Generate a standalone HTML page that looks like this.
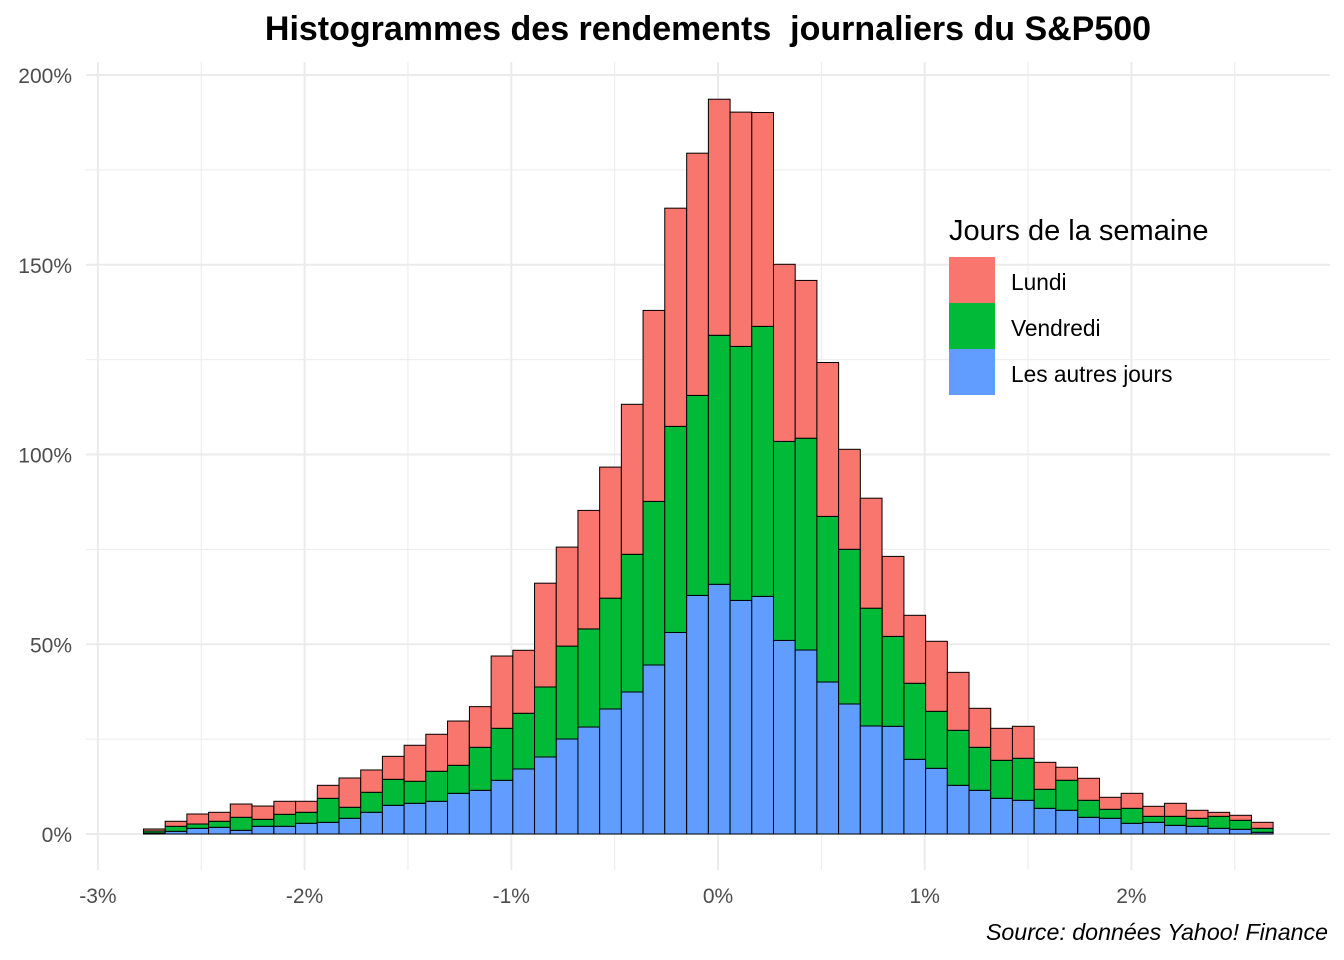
<!DOCTYPE html>
<html><head><meta charset="utf-8"><style>
html,body{margin:0;padding:0;background:#fff;}
svg{display:block;font-family:"Liberation Sans",Arial,sans-serif;}
</style></head><body>
<svg id="chart" width="1344" height="960" viewBox="0 0 1344 960">
<text x="708" y="40" text-anchor="middle" font-size="34" font-weight="bold" fill="#000" xml:space="preserve" style="white-space:pre">Histogrammes des rendements  journaliers du S&amp;P500</text>
<g id="grid"></g>
<g id="bars"></g>
<g id="axes"></g>
<g>
<text x="949" y="240" font-size="29" fill="#000">Jours de la semaine</text>
<rect x="949" y="257" width="46" height="46" fill="#F8766D"/>
<rect x="949" y="303" width="46" height="46" fill="#00BA38"/>
<rect x="949" y="349" width="46" height="46" fill="#619CFF"/>
<text x="1011" y="290" font-size="22.7" fill="#000">Lundi</text>
<text x="1011" y="336" font-size="22.7" fill="#000">Vendredi</text>
<text x="1011" y="382" font-size="22.7" fill="#000">Les autres jours</text>
</g>
<text x="1328" y="940" text-anchor="end" font-size="23.2" font-style="italic" fill="#000">Source: données Yahoo! Finance</text>
</svg>
<script>
const binCenters = [-2.727,-2.622,-2.517,-2.412,-2.307,-2.202,-2.096,-1.991,-1.886,-1.781,-1.676,-1.571,-1.466,-1.361,-1.256,-1.150,-1.045,-0.940,-0.835,-0.730,-0.625,-0.520,-0.415,-0.310,-0.205,-0.099,0.006,0.111,0.216,0.321,0.426,0.531,0.636,0.741,0.847,0.952,1.057,1.162,1.267,1.372,1.477,1.582,1.687,1.793,1.898,2.003,2.108,2.213,2.318,2.423,2.528,2.633];
const binWidth = 0.1051;
const autres = [0.26,0.71,1.50,1.77,0.97,2.03,2.03,2.82,3.08,4.14,5.72,7.56,8.09,8.62,10.72,11.51,14.15,17.13,20.29,25.03,28.19,32.94,37.42,44.53,53.10,62.87,65.80,61.55,62.61,51.01,48.48,40.05,34.26,28.46,28.38,19.68,17.31,12.83,11.51,9.41,8.88,6.77,6.25,4.40,4.14,2.82,3.08,2.29,2.03,1.50,1.24,0.45];
const vendredi = [0.53,1.32,1.13,1.58,3.43,1.84,3.16,2.90,6.32,2.90,5.27,6.85,5.80,7.91,7.38,11.33,13.70,14.68,18.45,24.48,25.85,29.20,36.28,43.11,54.31,52.70,65.61,66.93,71.15,52.44,55.81,43.64,40.76,31.04,23.69,20.03,15.02,14.49,11.33,10.01,11.07,5.01,7.91,4.48,2.37,3.95,1.58,2.37,2.11,3.16,2.37,1.05];
const lundi = [0.53,1.32,2.64,2.37,3.50,3.50,3.43,2.90,3.43,7.72,5.88,6.06,9.49,9.75,11.67,10.72,19.05,16.60,27.35,26.09,31.23,34.54,39.53,50.33,57.50,63.83,62.21,61.74,56.36,46.67,41.58,40.55,26.35,28.99,21.08,17.92,18.45,15.28,10.28,8.43,8.43,7.11,3.43,5.80,3.16,3.95,2.64,3.43,2.11,1.05,1.32,1.58];
const yTicks = [0,50,100,150,200];
const yTickLabels = ["0%","50%","100%","150%","200%"];
const xTicks = [-3,-2,-1,0,1,2];
const xTickLabels = ["-3%","-2%","-1%","0%","1%","2%"];

const NS = "http://www.w3.org/2000/svg";
const xs = v => 718 + v * 206.7;
const ys = v => 834 - v * 3.795;
function mk(tag, attrs, parent) {
  const e = document.createElementNS(NS, tag);
  for (const k in attrs) e.setAttribute(k, attrs[k]);
  parent.appendChild(e);
  return e;
}
const grid = document.getElementById('grid');
const bars = document.getElementById('bars');
const axes = document.getElementById('axes');

for (let i = 0; i < yTicks.length - 1; i++) {
  const m = (yTicks[i] + yTicks[i+1]) / 2;
  const l = mk('line', {x1: 86, x2: 1330, y1: ys(m), y2: ys(m), stroke: '#ebebeb', 'stroke-width': 1}, grid);
  
  
}
for (let i = 0; i < xTicks.length; i++) {
  const m = xTicks[i] + 0.5;
  const l = mk('line', {x1: xs(m), x2: xs(m), y1: 62, y2: 870, stroke: '#ebebeb', 'stroke-width': 1}, grid);
  
  
}
yTicks.forEach((t, i) => {
  const l = mk('line', {x1: 86, x2: 1330, y1: ys(t), y2: ys(t), stroke: '#ebebeb', 'stroke-width': 2}, grid);
  
  
  const tx = mk('text', {x: 72, y: ys(t) + 8, 'text-anchor': 'end', 'font-size': 21, fill: '#4d4d4d'}, axes);
  tx.textContent = yTickLabels[i];
  
  
});
xTicks.forEach((t, i) => {
  const l = mk('line', {x1: xs(t), x2: xs(t), y1: 62, y2: 870, stroke: '#ebebeb', 'stroke-width': 2}, grid);
  
  
  const tx = mk('text', {x: xs(t), y: 903, 'text-anchor': 'middle', 'font-size': 21, fill: '#4d4d4d'}, axes);
  tx.textContent = xTickLabels[i];
  
  
});
const series = [[autres, '#619CFF', 'bar-autres'], [vendredi, '#00BA38', 'bar-vendredi'], [lundi, '#F8766D', 'bar-lundi']];
binCenters.forEach((c, i) => {
  let base = 0;
  const x0 = xs(c - binWidth / 2), x1 = xs(c + binWidth / 2);
  series.forEach(([vals, col, nm]) => {
    const top = base + vals[i];
    const r = mk('rect', {x: x0, y: ys(top), width: x1 - x0, height: ys(base) - ys(top), fill: col, stroke: '#000', 'stroke-width': 1}, bars);
    
    
    base = top;
  });
});
</script>
</body></html>
